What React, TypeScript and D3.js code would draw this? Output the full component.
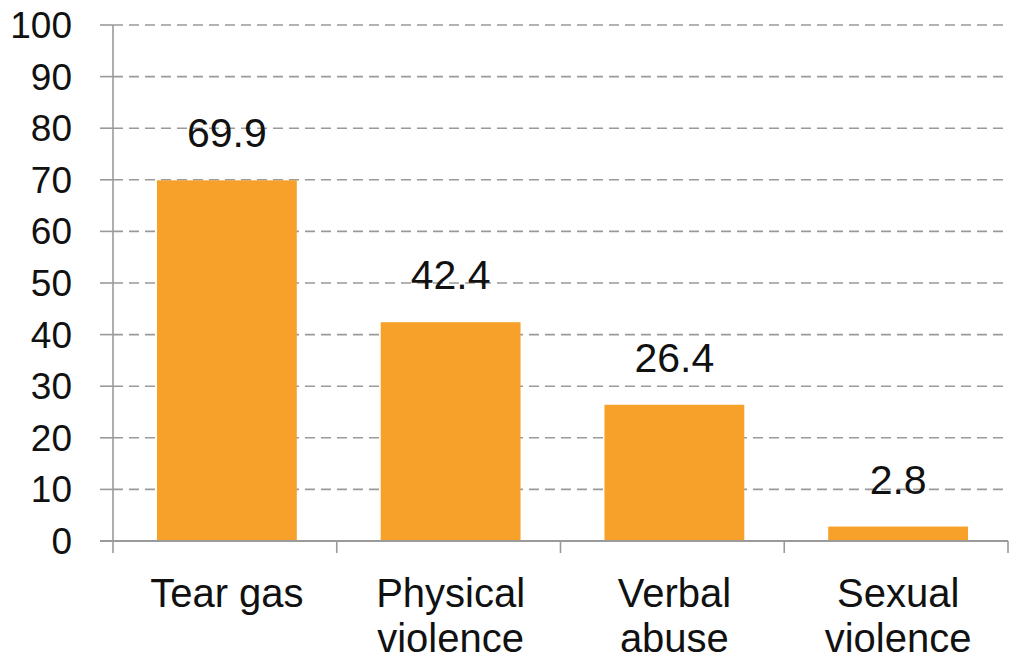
import React from "react";
import * as d3 from "d3";

const categories: string[][] = [["Tear gas"], ["Physical", "violence"], ["Verbal", "abuse"], ["Sexual", "violence"]];
const values: number[] = [69.9, 42.4, 26.4, 2.8];
const yTicks: number[] = [0, 10, 20, 30, 40, 50, 60, 70, 80, 90, 100];

const W = 1020;
const H = 661;
const left = 113;
const right = 1008;
const top = 25;
const bottom = 541;
const font = "'Liberation Sans', Arial, sans-serif";

export default function App() {
  const x = d3.scaleBand<number>().domain(d3.range(categories.length)).range([left + 2, right + 2]).paddingInner(0.375).paddingOuter(0.1875);
  const step = (right - left) / categories.length;
  const y = d3.scaleLinear().domain([0, 100]).range([bottom, top]);
  const color = "#F7A12A";
  const grid = "#9a9a9a";
  return (
    <svg width={W} height={H} style={{ position: "absolute", left: 0, top: 0, background: "#fff" }}>
      {yTicks.map((t) => (
        <g key={t}>
          {t > 0 && (
            <line x1={left} x2={right} y1={y(t)} y2={y(t)} stroke={grid} strokeWidth={1.6} strokeDasharray="10,6" />
          )}
          <line x1={100} x2={left} y1={y(t)} y2={y(t)} stroke={grid} strokeWidth={1.6} />
          <text x={72} y={y(t) + 13} textAnchor="end" fontFamily={font} fontSize={37} fill="#111">
            {t}
          </text>
        </g>
      ))}
      {values.map((v, i) => (
        <g key={i}>
          <rect x={x(i)} y={y(v)} width={x.bandwidth()} height={bottom - y(v)} fill={color} />
          <text x={(x(i) as number) + x.bandwidth() / 2} y={y(v) - 33} textAnchor="middle" fontFamily={font} fontSize={41} fill="#111">
            {v.toFixed(1)}
          </text>
        </g>
      ))}
      <line x1={left} x2={left} y1={top} y2={bottom} stroke={grid} strokeWidth={1.6} />
      <line x1={100} x2={right} y1={bottom} y2={bottom} stroke={grid} strokeWidth={1.8} />
      {d3.range(categories.length + 1).map((i) => (
        <line key={i} x1={left + i * step} x2={left + i * step} y1={bottom} y2={bottom + 12} stroke={grid} strokeWidth={1.6} />
      ))}
      {categories.map((lines, i) => (
        <text key={i} textAnchor="middle" fontFamily={font} fontSize={40} fill="#111">
          {lines.map((l, j) => (
            <tspan key={j} x={(x(i) as number) + x.bandwidth() / 2} y={607 + j * 45}>
              {l}
            </tspan>
          ))}
        </text>
      ))}
    </svg>
  );
}
